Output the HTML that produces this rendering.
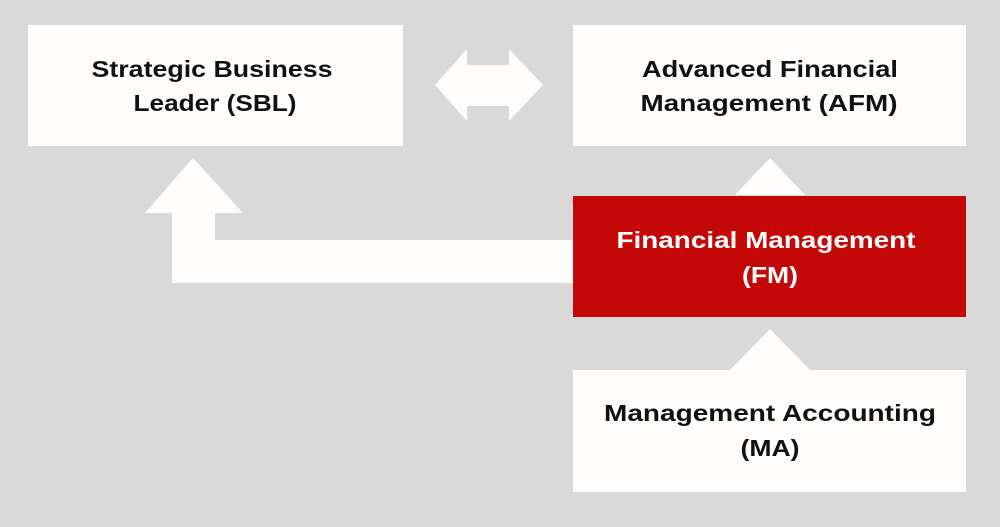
<!DOCTYPE html>
<html><head><meta charset="utf-8"><style>
html,body{margin:0;padding:0;background:#d9d9d9;}
body{width:1000px;height:522px;overflow:hidden;}
text{font-family:"Liberation Sans",sans-serif;font-weight:bold;font-size:23px;text-anchor:middle;}
</style></head><body>
<svg width="1000" height="522" viewBox="0 0 1000 522" xmlns="http://www.w3.org/2000/svg">
<rect width="1000" height="522" fill="#d9d9d9"/>
<g fill="#fefdfc">
<rect x="28" y="25" width="375" height="121"/>
<rect x="573" y="25" width="393" height="121"/>
<rect x="573" y="370" width="393" height="122"/>
<polygon points="193,158 243,213 215,213 215,240 573,240 573,283 172,283 172,213 145,213"/>
<polygon points="435,85 467,49 467,65 509,65 509,49 543,85 509,121 509,106 467,106 467,121"/>
<polygon points="770,158 805,195 735,195"/>
<polygon points="770,329 810,370 730,370"/>
</g>
<rect x="573" y="196" width="393" height="121" fill="#c40808"/>
<g fill="#111">
<text x="212" y="77" textLength="241" lengthAdjust="spacingAndGlyphs">Strategic Business</text>
<text x="215" y="111" textLength="163" lengthAdjust="spacingAndGlyphs">Leader (SBL)</text>
<text x="770" y="77" textLength="256" lengthAdjust="spacingAndGlyphs">Advanced Financial</text>
<text x="769" y="111" textLength="257" lengthAdjust="spacingAndGlyphs">Management (AFM)</text>
<text x="770" y="421" textLength="332" lengthAdjust="spacingAndGlyphs">Management Accounting</text>
<text x="770" y="456" textLength="59" lengthAdjust="spacingAndGlyphs">(MA)</text>
</g>
<g fill="#fff">
<text x="766" y="248" textLength="299" lengthAdjust="spacingAndGlyphs">Financial Management</text>
<text x="770" y="283" textLength="56" lengthAdjust="spacingAndGlyphs">(FM)</text>
</g>
</svg>
</body></html>
